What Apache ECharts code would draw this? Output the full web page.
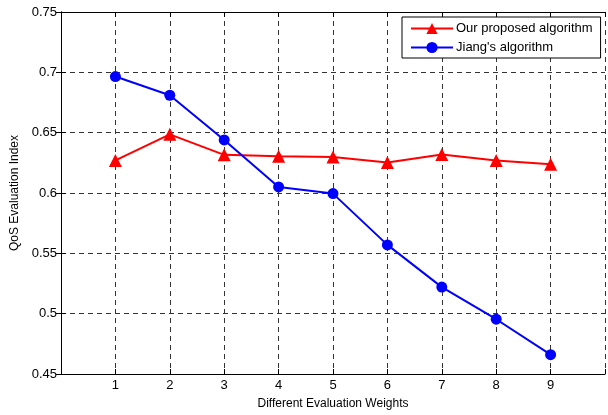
<!DOCTYPE html>
<html>
<head>
<meta charset="utf-8">
<script src="https://cdn.jsdelivr.net/npm/echarts@6/dist/echarts.min.js"></script>
<style>
  html, body { margin: 0; padding: 0; background: #fff; }
  #chart { width: 608px; height: 415px; }
</style>
</head>
<body>
<div id="chart"></div>
<script>
// evaluation weight index 1..9
const weights = [1, 2, 3, 4, 5, 6, 7, 8, 9]
const proposed = [0.627, 0.6486, 0.6316, 0.6305, 0.6299, 0.6253, 0.632, 0.627, 0.6239]
const jiang = [0.6965, 0.681, 0.644, 0.605, 0.5995, 0.557, 0.522, 0.4954, 0.466]

const font = 'Liberation Sans, Arial, sans-serif'
const gridDash = { color: '#333', width: 1, type: [5, 4] }

const chart = echarts.init(document.getElementById('chart'), null, { renderer: 'canvas' })

const pair = (ys) => weights.map((w, i) => [w, ys[i]])

chart.setOption({
  animation: false,
  backgroundColor: '#fff',
  grid: { left: 61, right: 1, top: 12, bottom: 38, show: false },
  legend: {
    left: 402, top: 17,
    orient: 'vertical',
    backgroundColor: '#fff',
    borderColor: '#000', borderWidth: 1, borderRadius: 0,
    padding: [5, 8, 4, 8],
    itemWidth: 42, itemHeight: 14, itemGap: 6,
    textStyle: { fontFamily: font, fontSize: 13, color: '#000', padding: [0, 0, 0, -2] },
    data: ['Our proposed algorithm', "Jiang's algorithm"]
  },
  xAxis: [
    {
      type: 'value', min: 0, max: 10, interval: 1,
      name: 'Different Evaluation Weights', nameLocation: 'middle', nameGap: 24,
      nameTextStyle: { fontFamily: font, fontSize: 12, color: '#000' },
      axisLine: { lineStyle: { color: '#000', width: 1 } },
      axisTick: { inside: true, length: 5, lineStyle: { color: '#000' } },
      axisLabel: {
        fontFamily: font, fontSize: 13, color: '#000', margin: 5,
        formatter: v => (v === 0 || v === 10) ? '' : String(v)
      },
      splitLine: { show: true, lineStyle: gridDash }
    },
    {
      type: 'value', position: 'top', min: 0, max: 10, interval: 1,
      axisLine: { lineStyle: { color: '#000', width: 1 } },
      axisTick: { inside: true, length: 5, lineStyle: { color: '#000' } },
      axisLabel: { show: false },
      splitLine: { show: false }
    }
  ],
  yAxis: [
    {
      type: 'value', min: 0.45, max: 0.75, interval: 0.05,
      name: 'QoS Evaluation Index', nameLocation: 'middle', nameGap: 33, nameRotate: 90,
      nameTextStyle: { fontFamily: font, fontSize: 12, color: '#000' },
      axisLine: { show: true, lineStyle: { color: '#000', width: 1 } },
      axisTick: { show: true, inside: true, length: 5, lineStyle: { color: '#000' } },
      axisLabel: {
        fontFamily: font, fontSize: 13, color: '#000', margin: 4,
        formatter: v => String(+v.toFixed(2))
      },
      splitLine: { show: true, lineStyle: gridDash }
    },
    {
      type: 'value', position: 'right', min: 0.45, max: 0.75, interval: 0.05,
      axisLine: { show: true, lineStyle: { color: '#000', width: 1 } },
      axisTick: { show: true, inside: true, length: 5, lineStyle: { color: '#000' } },
      axisLabel: { show: false },
      splitLine: { show: false }
    }
  ],
  series: [
    {
      name: 'Our proposed algorithm',
      type: 'line',
      data: pair(proposed),
      symbol: 'triangle', symbolSize: 13,
      lineStyle: { color: '#ff0000', width: 2 },
      itemStyle: { color: '#ff0000' }
    },
    {
      name: "Jiang's algorithm",
      type: 'line',
      data: pair(jiang),
      symbol: 'circle', symbolSize: 11,
      lineStyle: { color: '#0000ff', width: 2 },
      itemStyle: { color: '#0000ff' }
    }
  ]
})
</script>
</body>
</html>
